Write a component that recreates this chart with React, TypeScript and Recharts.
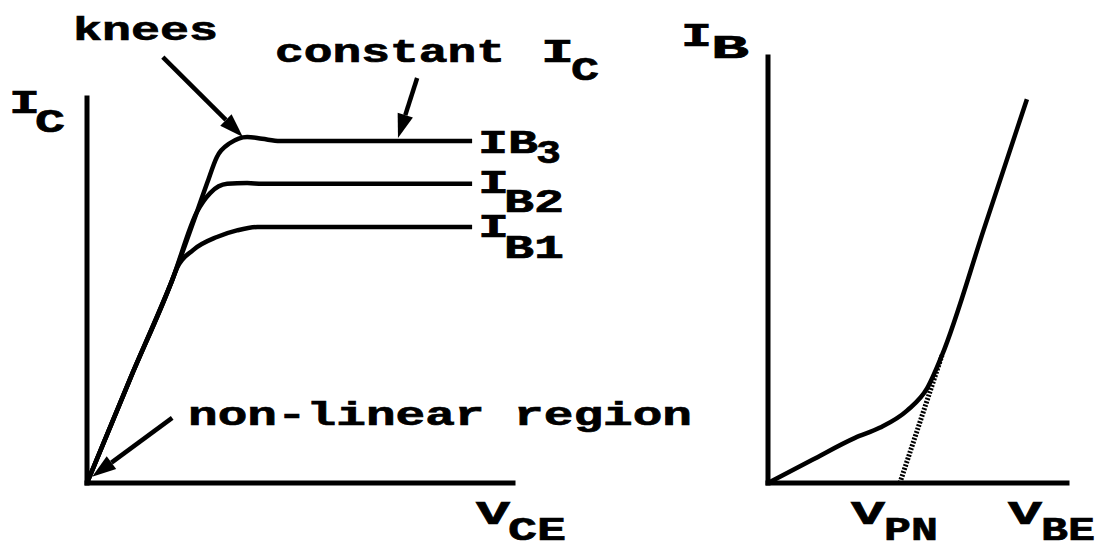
import { LineChart, Line, XAxis, YAxis, ReferenceLine } from 'recharts'

// output characteristics, I_C vs V_CE (arbitrary units 0..10)
const ib1Curve = [
  { x: 0, y: 0 }, { x: 1.01, y: 2.7 }, { x: 2.0, y: 5.27 }, { x: 2.12, y: 5.6 },
  { x: 2.49, y: 6.05 }, { x: 3.05, y: 6.39 }, { x: 3.52, y: 6.56 }, { x: 4.0, y: 6.65 },
  { x: 9.04, y: 6.65 },
]
const ib2Curve = [
  { x: 0, y: 0 }, { x: 1.01, y: 2.7 }, { x: 2.0, y: 5.27 }, { x: 2.58, y: 7.04 },
  { x: 2.89, y: 7.53 }, { x: 3.29, y: 7.77 }, { x: 3.76, y: 7.79 }, { x: 4.11, y: 7.77 },
  { x: 9.04, y: 7.77 },
]
const ib3Curve = [
  { x: 0, y: 0 }, { x: 1.01, y: 2.7 }, { x: 2.0, y: 5.27 }, { x: 2.58, y: 7.04 },
  { x: 2.82, y: 7.79 }, { x: 3.05, y: 8.47 }, { x: 3.36, y: 8.83 }, { x: 3.76, y: 8.99 },
  { x: 4.11, y: 8.94 }, { x: 4.53, y: 8.88 }, { x: 9.04, y: 8.88 },
]

// input characteristic, I_B vs V_BE
const ibCurve = [
  { x: 0, y: 0 }, { x: 1.47, y: 0.54 }, { x: 2.91, y: 1.06 }, { x: 3.75, y: 1.3 },
  { x: 4.65, y: 1.7 }, { x: 5.32, y: 2.22 }, { x: 5.82, y: 3.0 }, { x: 7.24, y: 6.0 },
  { x: 8.66, y: 9.01 },
]
const vpnLine = [{ x: 4.41, y: 0 }, { x: 5.82, y: 3.0 }]

// annotation arrows [from, to]
const kneesArrow = [{ x: 1.78, y: 11.06 }, { x: 3.66, y: 8.99 }]
const constantArrow = [{ x: 7.75, y: 10.52 }, { x: 7.3, y: 8.96 }]
const nonLinearArrow = [{ x: 2.0, y: 1.69 }, { x: 0.12, y: 0.16 }]

const font = "'Liberation Mono', 'Courier New', monospace"
const axisStyle = { stroke: '#000', strokeWidth: 5, strokeLinecap: 'square' as const }

const Arrow = (p: any) => {
  const { x1, y1, x2, y2 } = p
  const a = Math.atan2(y2 - y1, x2 - x1)
  const len = 24
  const w = 8
  const bx = x2 - len * Math.cos(a)
  const by = y2 - len * Math.sin(a)
  const px = -Math.sin(a) * w
  const py = Math.cos(a) * w
  return (
    <g>
      <line x1={x1} y1={y1} x2={bx} y2={by} stroke="#000" strokeWidth={4.5} />
      <polygon points={`${x2},${y2} ${bx + px},${by + py} ${bx - px},${by - py}`} fill="#000" />
    </g>
  )
}

function T({ x, y, w, children }: { x: number; y: number; w?: number; children: string }) {
  return (
    <text x={x} y={y} textLength={w} lengthAdjust="spacingAndGlyphs">
      {children}
    </text>
  )
}

export default function App() {
  const lineProps = {
    dataKey: 'y',
    type: 'monotone' as const,
    stroke: '#000',
    strokeWidth: 4.5,
    dot: false,
    activeDot: false,
    isAnimationActive: false,
  }
  // default axis sizes: XAxis height 30, YAxis width 60 – margins leave room for them
  return (
    <div style={{ position: 'absolute', left: 0, top: 0, width: 1102, height: 550, background: '#fff' }}>
      <div style={{ position: 'absolute', left: 0, top: 0 }}>
        <LineChart width={1102} height={550} margin={{ top: 98, right: 589, bottom: 37, left: 27 }}>
          <XAxis type="number" dataKey="x" domain={[0, 10]} tick={false} tickLine={false} axisLine={axisStyle} />
          <YAxis type="number" domain={[0, 10]} tick={false} tickLine={false} axisLine={axisStyle} />
          <Line {...lineProps} data={ib1Curve} />
          <Line {...lineProps} data={ib2Curve} />
          <Line {...lineProps} data={ib3Curve} />
          <ReferenceLine segment={kneesArrow} ifOverflow="visible" shape={Arrow} />
          <ReferenceLine segment={constantArrow} ifOverflow="visible" shape={Arrow} />
          <ReferenceLine segment={nonLinearArrow} ifOverflow="visible" shape={Arrow} />
        </LineChart>
      </div>
      <div style={{ position: 'absolute', left: 0, top: 0 }}>
        <LineChart width={1102} height={550} margin={{ top: 57, right: 35, bottom: 37, left: 708 }}>
          <XAxis type="number" dataKey="x" domain={[0, 10]} tick={false} tickLine={false} axisLine={axisStyle} />
          <YAxis type="number" domain={[0, 10]} tick={false} tickLine={false} axisLine={axisStyle} />
          <Line {...lineProps} data={vpnLine} type="linear" strokeDasharray="2 1.5" strokeWidth={5} />
          <Line {...lineProps} data={ibCurve} />
        </LineChart>
      </div>
      <svg width={1102} height={550} style={{ position: 'absolute', left: 0, top: 0 }} fontFamily={font} fontWeight="bold" fontSize={34} fill="#000" stroke="#000" strokeWidth={0.7}>
        <T x={73} y={40} w={145}>knees</T>
        <T x={275} y={62} w={230}>constant</T>
        <T x={541} y={62} w={33}>I</T>
        <T x={571} y={80} w={28}>C</T>
        <T x={9} y={113} w={31}>I</T>
        <T x={35} y={132} w={30}>C</T>
        <T x={478} y={153} w={60}>IB</T>
        <T x={536} y={163} w={25}>3</T>
        <T x={478} y={193} w={31}>I</T>
        <T x={504} y={212} w={60}>B2</T>
        <T x={478} y={237} w={31}>I</T>
        <T x={504} y={258} w={60}>B1</T>
        <T x={188} y={425} w={504}>non-linear region</T>
        <T x={476} y={524} w={34}>V</T>
        <T x={508} y={540} w={58}>CE</T>
        <T x={681} y={46} w={31}>I</T>
        <T x={711} y={58} w={38}>B</T>
        <T x={851} y={524} w={34}>V</T>
        <T x={884} y={540} w={54}>PN</T>
        <T x={1008} y={524} w={34}>V</T>
        <T x={1041} y={540} w={54}>BE</T>
      </svg>
    </div>
  )
}
